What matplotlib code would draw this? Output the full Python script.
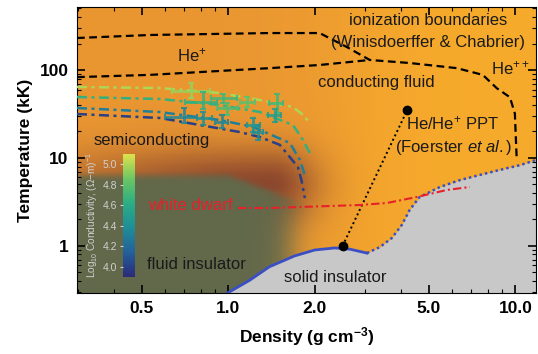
import numpy as np
import matplotlib
matplotlib.use("Agg")
import matplotlib.pyplot as plt
from matplotlib.colors import LinearSegmentedColormap, Normalize, to_rgb
from matplotlib.cm import ScalarMappable
from matplotlib.ticker import FixedLocator, FixedFormatter, LogLocator, NullFormatter

plt.rcParams['font.family'] = ['Liberation Sans', 'DejaVu Sans']
plt.rcParams['mathtext.fontset'] = 'custom'
plt.rcParams['mathtext.rm'] = 'Liberation Sans'
plt.rcParams['mathtext.it'] = 'Liberation Sans:italic'
plt.rcParams['mathtext.bf'] = 'Liberation Sans:bold'

# ionization boundaries (Winisdoerffer & Chabrier)
hepp_rho = [0.297, 0.533, 1.395, 2.08, 2.59, 3.11, 4.29, 6.25, 7.7, 8.62, 9.57, 9.96, 10.1]
hepp_T = [231, 250, 263, 263, 182, 130, 120, 105, 88, 62, 49, 32, 10.3]
hep_rho = [0.297, 0.533, 1.395, 2.08, 3.11]
hep_T = [83, 88, 105, 114, 130]

# conductivity contours (log10 sigma)
cont_level = [5.0, 4.65, 4.3, 4.0]
cont_rho = [
    [0.297, 0.577, 0.934, 1.288, 1.678, 1.82, 1.923],
    [0.297, 0.577, 0.934, 1.288, 1.678, 1.80, 1.923],
    [0.297, 0.577, 0.934, 1.217, 1.638, 1.775, 1.847],
    [0.297, 0.577, 1.097, 1.288, 1.511, 1.747, 1.80, 1.847],
]
cont_T = [
    [64.1, 62.4, 54.8, 45.6, 38.0, 31.0, 25.0],
    [49.3, 46.8, 40.0, 33.3, 23.7, 17.0, 11.4],
    [37.0, 33.3, 27.0, 22.6, 14.8, 9.5, 6.4],
    [31.6, 28.5, 19.7, 17.3, 14.1, 7.9, 5.5, 3.5],
]

# measured conductivity points
pt_rho = [0.744, 0.817, 0.959, 0.988, 1.16, 1.475, 1.45, 0.70, 0.815, 0.949, 1.217, 1.267]
pt_rho_lo = [0.634, 0.705, 0.87, 0.91, 1.10, 1.39, 1.37, 0.60, 0.78, 0.90, 1.16, 1.22]
pt_rho_hi = [0.862, 0.91, 1.07, 1.08, 1.24, 1.55, 1.53, 0.78, 0.875, 1.0, 1.29, 1.32]
pt_T = [58.2, 43.6, 48.0, 37.0, 43.3, 42.2, 30.8, 29.2, 28.5, 25.6, 23.7, 19.7]
pt_T_lo = [47.7, 35.8, 41.8, 30.8, 38.0, 32.6, 25.6, 25.0, 23.7, 21.9, 19.7, 16.0]
pt_T_hi = [71.7, 55.6, 53.4, 42.1, 49.3, 53.0, 36.0, 37.0, 33.0, 30.8, 28.5, 23.7]
pt_sigma = [4.95, 4.65, 4.7, 4.75, 4.8, 4.7, 4.5, 4.35, 4.4, 4.35, 4.45, 4.4]

# solid boundary and melting line
solid_rho = [0.99, 1.19, 1.39, 1.70, 2.0, 2.35, 2.65, 3.04]
solid_T = [0.29, 0.41, 0.58, 0.77, 0.90, 0.95, 0.92, 0.83]
melt_rho = [3.04, 3.37, 3.71, 4.02, 4.28, 4.64, 5.46, 6.4, 7.5, 8.8, 10.4, 11.8]
melt_T = [0.83, 0.97, 1.23, 1.73, 2.56, 3.6, 4.68, 5.6, 6.4, 7.3, 8.3, 9.5]

# He/He+ plasma phase transition (Foerster et al.)
ppt_rho = [2.5, 4.2]
ppt_T = [1.0, 35.0]

# white dwarf track
wd_rho = [1.08, 1.39, 2.87, 3.57, 4.53, 5.77, 6.94]
wd_T = [2.7, 2.7, 2.92, 3.08, 3.6, 4.33, 4.68]

cmap = LinearSegmentedColormap.from_list(
    "cond", ["#2b2a78", "#24609a", "#1e8d97", "#2bad84", "#6cc663", "#dde24c"])
norm = Normalize(3.9, 5.1)

fig = plt.figure(figsize=(5.38, 3.54), dpi=100)
ax = fig.add_axes([77 / 538, 61 / 354, 459 / 538, 286 / 354])
xmin, xmax, ymin, ymax = 0.297, 11.8, 0.292, 520

# background regions (orange conducting fluid, semiconducting, fluid insulator)
u = np.linspace(np.log10(xmin), np.log10(xmax), 320)
v = np.linspace(np.log10(ymin), np.log10(ymax), 320)
U, V = np.meshgrid(u, v)
sig = lambda z: 1 / (1 + np.exp(-z))
orl = np.array(to_rgb("#e99631"))
orr = np.array(to_rgb("#f6aa2b"))
brown = np.array(to_rgb("#8c472d"))
green = np.array(to_rgb("#62684a"))
t = sig((U - 0.42) / 0.12)[..., None]
rgb = orl * (1 - t) + orr * t
wu = np.where(U < 0.15, np.exp(-((U - 0.15) / 0.75) ** 2), np.exp(-((U - 0.15) / 0.16) ** 2))
ws = (wu * np.exp(-((V - 0.7) / 0.42) ** 2))[..., None]
rgb = rgb * (1 - ws) + brown * ws
wi = (sig((0.8 - V - 1.2 * np.clip(U - 0.0, 0, None)) / 0.02) * sig((0.22 - U) / 0.03))[..., None]
rgb = rgb * (1 - wi) + green * wi
ax.pcolormesh(10 ** U, 10 ** V, np.clip(rgb, 0, 1), shading='nearest', rasterized=True, zorder=0)

# solid insulator
b_rho = solid_rho + melt_rho[1:]
b_T = solid_T + melt_T[1:]
ax.fill_between(b_rho, 0.1, b_T, color="#c8c8c8", zorder=1, lw=0)
ax.plot(solid_rho, solid_T, color="#3b4fc4", lw=2, zorder=3)
ax.plot(melt_rho, melt_T, color="#3b4fc4", lw=1.8, ls=(0, (1, 1.2)), zorder=3)

# ionization boundaries
ax.plot(hepp_rho, hepp_T, color="k", lw=1.6, ls=(0, (3.5, 2)), zorder=3)
ax.plot(hep_rho, hep_T, color="k", lw=1.6, ls=(0, (3.5, 2)), zorder=3)

# conductivity contours
for r, T, lev in zip(cont_rho, cont_T, cont_level):
    ax.plot(r, T, color=cmap(norm(lev)), lw=1.8, ls=(0, (4, 1.8, 1.2, 1.8)), zorder=3)

# data points
for i in range(len(pt_rho)):
    c = cmap(norm(pt_sigma[i]))
    ax.errorbar(pt_rho[i], pt_T[i],
                xerr=[[pt_rho[i] - pt_rho_lo[i]], [pt_rho_hi[i] - pt_rho[i]]],
                yerr=[[pt_T[i] - pt_T_lo[i]], [pt_T_hi[i] - pt_T[i]]],
                fmt='none', ecolor=c, elinewidth=2, capsize=2, capthick=1.5,
                alpha=0.85, zorder=4)

# PPT and white dwarf
ax.plot(ppt_rho, ppt_T, color="k", lw=1.4, ls=(0, (1, 1.5)), zorder=3)
ax.plot(ppt_rho, ppt_T, 'o', color="k", ms=6, zorder=5)
ax.plot(wd_rho, wd_T, color="#e8202a", lw=1.5, ls=(0, (4, 1.5, 1, 1.5)), zorder=3)

tc = "#1a1a1a"
fs = 12
ax.text(0.746, 148, r"He$^{+}$", fontsize=fs, color=tc, ha='center', va='center')
ax.text(4.96, 370, "ionization boundaries", fontsize=fs, color=tc, ha='center', va='center')
ax.text(4.96, 208, "(Winisdoerffer & Chabrier)", fontsize=fs, color=tc, ha='center', va='center')
ax.text(9.57, 105, r"He$^{++}$", fontsize=fs, color=tc, ha='center', va='center')
ax.text(3.29, 73, "conducting fluid", fontsize=fs, color=tc, ha='center', va='center')
ax.text(6.06, 25, r"He/He$^{+}$ PPT", fontsize=fs, color=tc, ha='center', va='center')
ax.text(6.1, 13, r"(Foerster $\it{et\ al.}$)", fontsize=fs, color=tc, ha='center', va='center')
ax.text(0.541, 16, "semiconducting", fontsize=fs, color=tc, ha='center', va='center')
ax.text(0.735, 2.92, "white dwarf", fontsize=fs, color="#e8202a", ha='center', va='center')
ax.text(0.777, 0.61, "fluid insulator", fontsize=fs, color=tc, ha='center', va='center')
ax.text(2.35, 0.44, "solid insulator", fontsize=fs, color=tc, ha='center', va='center')

ax.set_xscale('log')
ax.set_yscale('log')
ax.set_xlim(xmin, xmax)
ax.set_ylim(ymin, ymax)
xt = [0.5, 1.0, 2.0, 5.0, 10.0]
ax.xaxis.set_major_locator(FixedLocator(xt))
ax.xaxis.set_major_formatter(FixedFormatter(["0.5", "1.0", "2.0", "5.0", "10.0"]))
ax.xaxis.set_minor_locator(LogLocator(subs=np.arange(2, 10)))
ax.xaxis.set_minor_formatter(NullFormatter())
ax.yaxis.set_major_locator(FixedLocator([1, 10, 100]))
ax.yaxis.set_major_formatter(FixedFormatter(["1", "10", "100"]))
ax.yaxis.set_minor_locator(LogLocator(subs=np.arange(2, 10)))
ax.yaxis.set_minor_formatter(NullFormatter())
ax.tick_params(which='both', direction='in', top=True, right=True, zorder=6)
ax.tick_params(which='major', length=6, width=1.2, labelsize=12.5, pad=6)
ax.tick_params(which='minor', length=3, width=0.8)
for lab in ax.get_xticklabels() + ax.get_yticklabels():
    lab.set_fontweight('bold')
ax.set_xlabel(r"Density (g cm$^{\mathbf{-3}}$)", fontsize=12.5, fontweight='bold', labelpad=6)
ax.set_ylabel("Temperature (kK)", fontsize=12.5, fontweight='bold', labelpad=5)

# colorbar
cax = fig.add_axes([122.7 / 538, 77 / 354, 12.3 / 538, 123 / 354])
cb = fig.colorbar(ScalarMappable(norm=norm, cmap=cmap), cax=cax)
cb.outline.set_visible(False)
cb.set_ticks([4.0, 4.2, 4.4, 4.6, 4.8, 5.0])
cb.set_ticklabels(["4.0", "4.2", "4.4", "4.6", "4.8", "5.0"])
cax.yaxis.set_ticks_position('left')
cax.yaxis.set_label_position('left')
cax.tick_params(colors="#d0d0d0", labelsize=7.5, length=2.5, width=0.8, pad=1.5)
cb.set_label(r"Log$_{10}$ Conductivity, ($\Omega$$-$m)$^{-1}$", color="#d0d0d0",
             fontsize=7.2, labelpad=2)

fig.savefig("out.png", dpi=100)
